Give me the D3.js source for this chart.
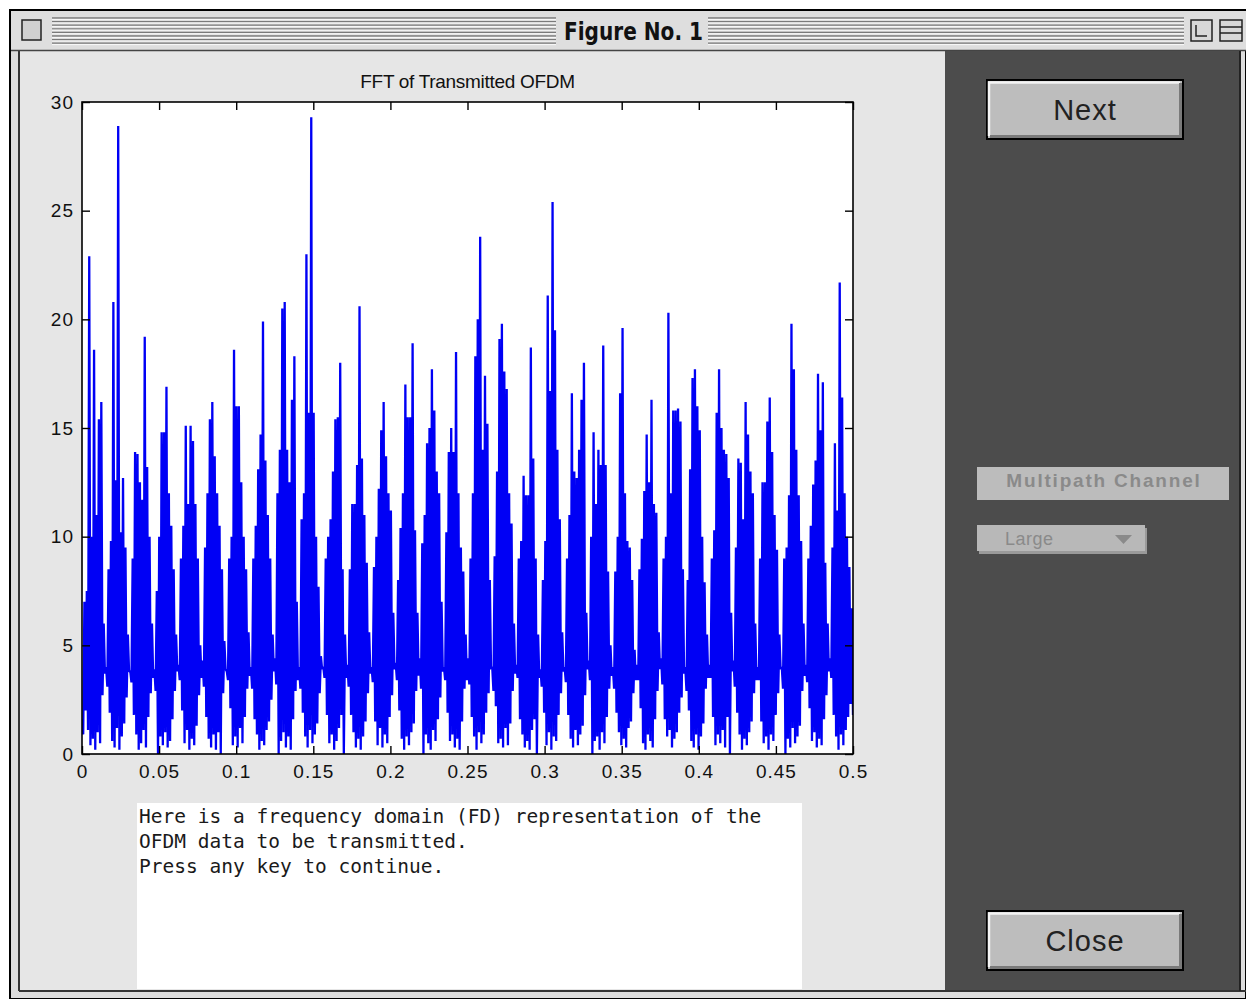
<!DOCTYPE html>
<html lang="en">
<head>
<meta charset="utf-8" />
<title>FFT of Transmitted OFDM</title>
<style>
  body{margin:0;background:#fff;}
  svg{display:block;}
  .tick text{font-family:"Liberation Sans",Arial,sans-serif;font-size:19px;letter-spacing:1px;fill:#111;}
  .tick line{stroke:#000;stroke-width:1.4;}
  .domain{display:none;}
  .mono{font-family:"DejaVu Sans Mono",monospace;font-size:19.5px;fill:#1a1a1a;}
</style>
<script src="https://cdn.jsdelivr.net/npm/d3@7.9.0/dist/d3.min.js"></script>
</head>
<body>
<script>
/* ───────── DATA ───────── */
// 32 spectral lobes, each 0.5/32 wide; the trace alternates high/low sample
// upper samples of every lobe (left → right)
const lobeHighs = [
  [1.6, 7.0, 7.5, 22.9, 10.0, 18.6, 11.0, 15.4, 16.2, 6.0],
  [4.0, 8.5, 9.8, 20.8, 12.6, 28.9, 10.2, 12.7, 9.5, 5.5],
  [3.8, 9.0, 13.9, 13.8, 12.5, 11.7, 19.2, 13.2, 10.0, 6.0],
  [3.9, 7.5, 10.0, 14.8, 14.8, 16.9, 12.0, 10.5, 8.5, 5.5],
  [4.1, 9.0, 10.5, 15.1, 11.5, 15.1, 14.4, 11.5, 9.0, 5.0],
  [4.3, 9.5, 12.0, 15.4, 16.2, 13.7, 12.0, 10.5, 8.5, 5.2],
  [3.8, 9.0, 10.0, 18.6, 16.0, 16.0, 12.5, 10.0, 8.5, 5.6],
  [4.0, 9.0, 10.5, 13.1, 14.7, 19.9, 13.5, 11.0, 9.0, 5.5],
  [4.4, 12.0, 14.0, 20.5, 20.8, 14.0, 12.5, 16.3, 18.3, 7.0],
  [4.0, 10.8, 12.0, 23.0, 15.7, 29.3, 15.7, 10.0, 7.7, 4.5],
  [4.0, 9.0, 10.0, 10.8, 13.0, 15.4, 15.5, 18.0, 8.5, 5.5],
  [4.1, 8.5, 11.5, 11.5, 13.3, 20.6, 13.6, 11.0, 8.8, 5.6],
  [4.0, 8.6, 10.0, 12.2, 14.9, 16.2, 13.7, 12.0, 11.2, 6.5],
  [4.2, 8.0, 10.4, 12.0, 17.0, 15.5, 15.5, 18.9, 10.3, 6.5],
  [4.4, 9.7, 11.0, 14.3, 15.0, 17.7, 15.8, 13.0, 12.0, 7.0],
  [4.0, 10.2, 13.9, 15.0, 13.9, 18.5, 12.0, 9.5, 8.4, 5.5],
  [4.4, 9.0, 12.0, 18.3, 20.0, 23.8, 14.0, 17.4, 15.2, 8.0],
  [4.0, 9.1, 13.0, 19.1, 19.8, 17.6, 16.8, 12.0, 10.6, 6.0],
  [4.1, 9.0, 9.8, 12.8, 11.9, 11.9, 18.7, 13.6, 9.0, 5.5],
  [3.9, 8.0, 9.8, 21.1, 16.7, 25.4, 19.5, 14.0, 10.8, 5.6],
  [4.0, 9.0, 11.0, 16.6, 13.0, 12.7, 14.0, 16.3, 18.0, 6.5],
  [4.3, 10.0, 14.8, 11.5, 14.0, 13.3, 18.8, 13.3, 8.4, 5.0],
  [4.0, 8.4, 10.0, 16.6, 19.6, 12.0, 9.8, 9.5, 8.0, 4.8],
  [4.1, 8.5, 9.9, 12.1, 14.7, 12.5, 16.3, 11.5, 11.1, 5.6],
  [4.4, 9.0, 10.0, 20.3, 12.0, 15.8, 15.8, 15.9, 15.3, 8.5],
  [4.0, 8.0, 13.1, 17.3, 17.7, 16.0, 14.9, 10.0, 7.9, 5.5],
  [4.1, 9.0, 10.3, 15.7, 17.7, 15.0, 14.0, 13.8, 12.7, 6.5],
  [4.3, 9.5, 13.6, 13.4, 10.8, 16.2, 14.7, 13.0, 12.0, 6.0],
  [4.0, 9.0, 12.5, 12.5, 15.3, 16.4, 13.9, 11.0, 9.4, 5.5],
  [4.0, 9.0, 9.5, 11.9, 19.8, 17.7, 14.0, 11.9, 9.8, 6.0],
  [4.1, 9.0, 10.5, 12.4, 13.5, 17.5, 14.9, 17.1, 8.8, 6.0],
  [4.4, 9.5, 14.3, 11.2, 21.7, 16.4, 12.0, 10.0, 8.6, 6.7]
];
// lower samples between them
const lobeLows = [
  [0.9, 2.0, 1.1, 0.4, 0.7, 0.2, 1.0, 0.5, 2.7, 3.7],
  [3.1, 1.9, 0.6, 0.3, 1.2, 0.2, 0.8, 1.4, 2.6, 3.8],
  [3.3, 1.8, 0.9, 0.2, 0.5, 1.1, 0.3, 1.7, 2.8, 3.5],
  [2.9, 0.0, 0.8, 0.4, 1.0, 0.3, 0.6, 1.6, 2.9, 3.8],
  [3.4, 2.0, 0.5, 1.1, 0.2, 0.7, 0.4, 1.3, 2.7, 3.5],
  [3.1, 1.7, 0.7, 0.3, 0.9, 0.2, 1.0, 0.0, 2.8, 3.9],
  [3.4, 2.1, 0.4, 0.8, 0.3, 1.2, 0.5, 1.7, 3.0, 3.6],
  [3.0, 1.6, 0.9, 0.2, 0.6, 0.4, 1.1, 1.5, 2.5, 3.8],
  [3.2, 0.0, 0.6, 1.0, 0.3, 0.8, 0.2, 1.6, 2.9, 3.4],
  [3.0, 1.9, 0.8, 0.3, 1.1, 0.5, 0.9, 1.4, 2.8, 3.9],
  [3.5, 1.8, 0.5, 0.9, 0.2, 0.6, 1.2, 1.8, 0.0, 3.5],
  [3.1, 1.8, 1.0, 0.3, 0.7, 0.2, 0.8, 1.5, 2.8, 3.7],
  [3.3, 1.5, 0.4, 1.2, 0.3, 0.9, 0.5, 1.7, 2.7, 3.9],
  [3.4, 2.0, 0.7, 0.2, 0.8, 0.4, 1.0, 1.4, 2.9, 3.6],
  [3.0, 0.0, 0.9, 0.5, 0.2, 1.1, 0.6, 1.6, 2.6, 3.8],
  [3.4, 1.9, 0.6, 0.9, 0.3, 0.7, 0.2, 1.5, 3.0, 3.4],
  [3.2, 1.7, 0.8, 0.2, 1.0, 0.5, 0.9, 1.9, 2.8, 3.9],
  [2.9, 2.2, 0.5, 0.7, 0.3, 1.2, 0.4, 1.4, 2.9, 3.7],
  [3.5, 1.6, 0.9, 0.3, 0.6, 0.2, 1.1, 1.6, 0.0, 3.5],
  [3.1, 1.9, 0.4, 1.0, 0.2, 0.8, 0.6, 1.8, 2.8, 3.8],
  [3.3, 1.8, 0.7, 0.3, 1.1, 0.4, 0.9, 1.3, 2.7, 3.9],
  [3.4, 0.0, 0.6, 0.8, 0.2, 1.0, 0.5, 1.7, 3.0, 3.6],
  [3.0, 1.9, 1.0, 0.4, 0.7, 0.3, 1.2, 1.5, 2.8, 3.4],
  [3.4, 2.1, 0.5, 0.2, 0.9, 0.6, 0.3, 1.6, 2.9, 3.9],
  [3.2, 1.6, 0.8, 1.1, 0.3, 0.7, 1.0, 1.9, 2.6, 3.7],
  [2.9, 2.0, 0.6, 0.3, 0.9, 0.2, 0.8, 1.4, 3.0, 3.5],
  [3.5, 1.7, 0.4, 0.9, 0.5, 1.1, 0.3, 1.7, 0.0, 3.8],
  [3.1, 1.9, 0.9, 0.2, 0.7, 0.4, 1.0, 1.5, 2.8, 3.4],
  [3.4, 1.5, 0.5, 0.8, 0.2, 0.9, 0.6, 1.8, 2.8, 3.9],
  [3.0, 0.0, 0.7, 0.3, 1.2, 0.5, 0.8, 1.3, 2.9, 3.6],
  [3.3, 2.1, 0.6, 1.0, 0.3, 0.7, 0.4, 1.6, 2.7, 3.8],
  [3.5, 1.8, 0.8, 0.2, 0.9, 0.4, 1.1, 1.7, 2.3, 1.8]
];
const xTicks = [0, 0.05, 0.1, 0.15, 0.2, 0.25, 0.3, 0.35, 0.4, 0.45, 0.5];
const yTicks = [0, 5, 10, 15, 20, 25, 30];
const plotTitle = 'FFT of Transmitted OFDM';
const msgLines = [
  'Here is a frequency domain (FD) representation of the',
  'OFDM data to be transmitted.',
  'Press any key to continue.'
];

/* ───────── LAYOUT ───────── */
const W = 1246, H = 999;
const P = {left:82, right:853, top:102, bottom:754};

const svg = d3.select('body').append('svg').attr('width',W).attr('height',H);

/* window frame + title bar */
svg.append('rect').attr('x',10).attr('y',10).attr('width',W-10).attr('height',H-10)
   .attr('fill','#dcdcdc').attr('stroke','#000').attr('stroke-width',2);
const bar = svg.append('g');
bar.append('rect').attr('x',11).attr('y',11).attr('width',W-11).attr('height',39).attr('fill','#dedede');
d3.range(8).forEach(i=>{
  const yy = 18 + i*3.6;
  [[52,556],[708,1184]].forEach(([a,b])=>{
    bar.append('line').attr('x1',a).attr('x2',b).attr('y1',yy).attr('y2',yy)
       .attr('stroke','#7a7a7a').attr('stroke-width',1.3);
    bar.append('line').attr('x1',a).attr('x2',b).attr('y1',yy+1.4).attr('y2',yy+1.4)
       .attr('stroke','#fafafa').attr('stroke-width',1);
  });
});
bar.append('text').attr('x',564).attr('y',40)
   .attr('font-family','"DejaVu Sans Condensed","Liberation Sans Narrow",sans-serif')
   .attr('font-weight','bold').attr('font-size',25).attr('fill','#111')
   .attr('textLength',139).attr('lengthAdjust','spacingAndGlyphs').text('Figure No. 1');
// close box and zoom boxes
bar.append('rect').attr('x',22).attr('y',20).attr('width',19).attr('height',20)
   .attr('fill','#d0d0d0').attr('stroke','#222').attr('stroke-width',1.5);
bar.append('rect').attr('x',1191).attr('y',20).attr('width',21).attr('height',21)
   .attr('fill','#d8d8d8').attr('stroke','#222').attr('stroke-width',1.5);
bar.append('path').attr('d','M1196,25 V36 H1207').attr('fill','none').attr('stroke','#222').attr('stroke-width',1.5);
bar.append('rect').attr('x',1220).attr('y',20).attr('width',22).attr('height',21)
   .attr('fill','#d8d8d8').attr('stroke','#222').attr('stroke-width',1.5);
bar.append('path').attr('d','M1220,27 H1242 M1220,33 H1242').attr('stroke','#222').attr('stroke-width',1.5);

/* content background */
svg.append('rect').attr('x',20).attr('y',51).attr('width',925).attr('height',939).attr('fill','#e6e6e6');
svg.append('line').attr('x1',19).attr('x2',19).attr('y1',50).attr('y2',991).attr('stroke','#333').attr('stroke-width',2);
svg.append('line').attr('x1',11).attr('x2',W).attr('y1',50.5).attr('y2',50.5).attr('stroke','#444').attr('stroke-width',1.5);
svg.append('line').attr('x1',19).attr('x2',W).attr('y1',991).attr('y2',991).attr('stroke','#333').attr('stroke-width',2);
svg.append('rect').attr('x',945).attr('y',51).attr('width',295).attr('height',939).attr('fill','#4c4c4c');
svg.append('line').attr('x1',1240).attr('x2',1240).attr('y1',51).attr('y2',991).attr('stroke','#222').attr('stroke-width',2);

/* ───────── PLOT ───────── */
const samples = lobeHighs.flatMap((hi,k)=>hi.flatMap((h,i)=>[h, lobeLows[k][i]]));
const N = samples.length;
const x = d3.scaleLinear().domain([0,0.5]).range([P.left,P.right]);
const y = d3.scaleLinear().domain([0,30]).range([P.bottom,P.top]);

svg.append('rect').attr('x',P.left).attr('y',P.top)
   .attr('width',P.right-P.left).attr('height',P.bottom-P.top).attr('fill','#fff');

const clip = svg.append('clipPath').attr('id','clip');
clip.append('rect').attr('x',P.left).attr('y',P.top-2).attr('width',P.right-P.left).attr('height',P.bottom-P.top+2);

const line = d3.line().x((d,i)=>x(i/(N-1)*0.5)).y(d=>y(d));
svg.append('path').datum(samples)
   .attr('clip-path','url(#clip)')
   .attr('d',line).attr('fill','none')
   .attr('stroke','#0000f5').attr('stroke-width',2.3)
   .attr('stroke-linejoin','bevel');

/* axes: ticks point inward on all four sides */
svg.append('g').attr('transform',`translate(0,${P.bottom})`)
   .call(d3.axisBottom(x).tickValues(xTicks).tickSize(-8).tickPadding(10).tickFormat(d3.format('')))
   .call(g=>g.selectAll('text').attr('dy','0.75em'));
svg.append('g').attr('transform',`translate(0,${P.top})`)
   .call(d3.axisTop(x).tickValues(xTicks).tickSize(-8).tickFormat(''));
svg.append('g').attr('transform',`translate(${P.left},0)`)
   .call(d3.axisLeft(y).tickValues(yTicks).tickSize(-8).tickPadding(8));
svg.append('g').attr('transform',`translate(${P.right},0)`)
   .call(d3.axisRight(y).tickValues(yTicks).tickSize(-8).tickFormat(''));
svg.append('rect').attr('x',P.left).attr('y',P.top)
   .attr('width',P.right-P.left).attr('height',P.bottom-P.top)
   .attr('fill','none').attr('stroke','#000').attr('stroke-width',1.6);

svg.append('text').attr('x',(P.left+P.right)/2).attr('y',88).attr('text-anchor','middle')
   .attr('font-family','"Liberation Sans",Arial,sans-serif').attr('font-size',19)
   .attr('letter-spacing','-0.3px').attr('fill','#111').text(plotTitle);

/* ───────── MESSAGE BOX ───────── */
svg.append('rect').attr('x',137).attr('y',803).attr('width',665).attr('height',186).attr('fill','#fff');
svg.append('g').selectAll('text').data(msgLines).join('text')
   .attr('class','mono').attr('x',139).attr('y',(d,i)=>823+i*25).text(d=>d);

/* ───────── RIGHT CONTROL PANEL ───────── */
function button(x0,y0,w,h,label){
  const g = svg.append('g');
  g.append('rect').attr('x',x0).attr('y',y0).attr('width',w).attr('height',h)
   .attr('fill','#bdbdbd').attr('stroke','#000').attr('stroke-width',2);
  g.append('path').attr('d',`M${x0+2},${y0+h-3} V${y0+2.5} H${x0+w-3}`)
   .attr('fill','none').attr('stroke','#f4f4f4').attr('stroke-width',2.5);
  g.append('path').attr('d',`M${x0+3},${y0+h-2.5} H${x0+w-2.5} V${y0+3}`)
   .attr('fill','none').attr('stroke','#7a7a7a').attr('stroke-width',3);
  g.append('text').attr('x',x0+w/2).attr('y',y0+h/2+10).attr('text-anchor','middle')
   .attr('font-family','"Liberation Sans",Arial,sans-serif').attr('font-size',29)
   .attr('letter-spacing','1px').attr('fill','#222').text(label);
}
button(987,80,196,59,'Next');
button(987,911,196,59,'Close');

svg.append('rect').attr('x',977).attr('y',467).attr('width',252).attr('height',33).attr('fill','#bcbcbc');
svg.append('text').attr('x',1104).attr('y',487).attr('text-anchor','middle')
   .attr('font-family','"Liberation Sans",Arial,sans-serif').attr('font-weight','bold')
   .attr('font-size',19).attr('letter-spacing','1.8px').attr('fill','#8a8a8a').text('Multipath Channel');

svg.append('rect').attr('x',979).attr('y',528).attr('width',168).attr('height',26).attr('fill','#9a9a9a');
svg.append('rect').attr('x',977).attr('y',525).attr('width',168).attr('height',26).attr('fill','#b8b8b8');
svg.append('text').attr('x',1005).attr('y',545)
   .attr('font-family','"Liberation Sans",Arial,sans-serif').attr('font-size',18)
   .attr('letter-spacing','0.5px').attr('fill','#8a8a8a').text('Large');
svg.append('path').attr('d','M1115,535 L1132,535 L1123.5,544 Z').attr('fill','#8a8a8a');
</script>
</body>
</html>
